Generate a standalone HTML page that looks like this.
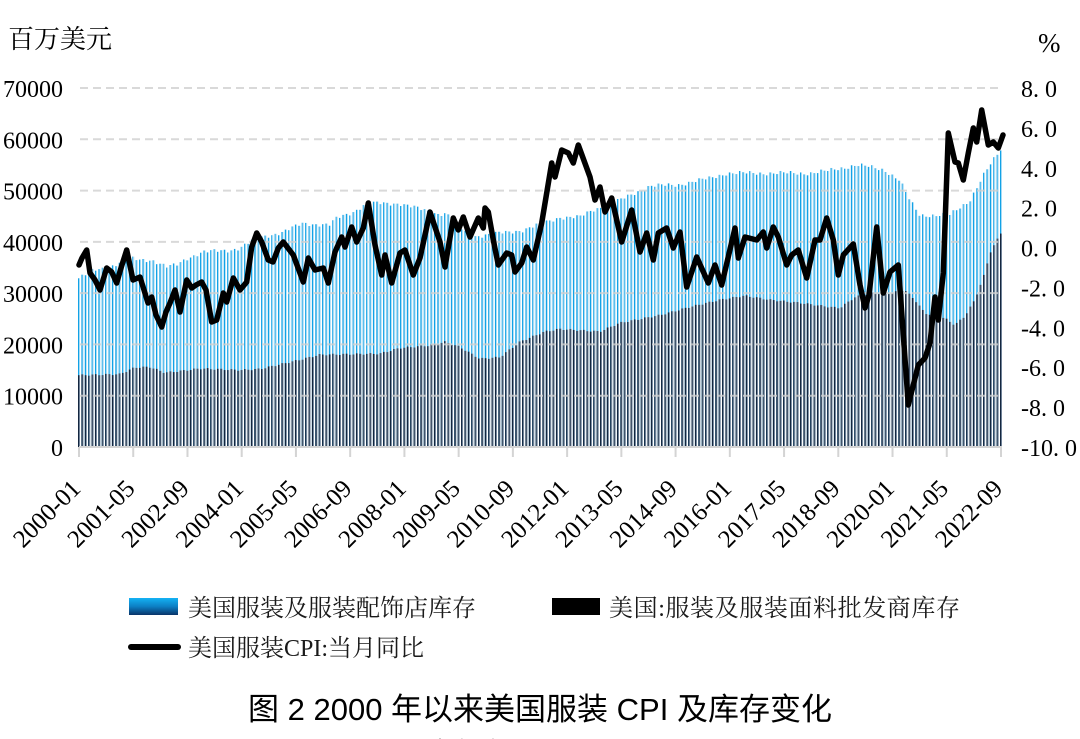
<!DOCTYPE html>
<html><head><meta charset="utf-8">
<style>
html,body{margin:0;padding:0;background:#fff;}
svg{display:block;}
.ax{font-family:"Liberation Serif","Noto Serif CJK SC",serif;font-size:24px;fill:#000;}
.xl{font-family:"Liberation Serif","Noto Serif CJK SC",serif;font-size:25px;fill:#000;}
.lg{font-family:"Liberation Serif","Noto Serif CJK SC",serif;font-size:24px;fill:#1a1a1a;}
.tt{font-family:"Liberation Sans","Noto Sans CJK SC",sans-serif;font-size:31px;fill:#000;}
</style></head>
<body>
<svg id="c" xmlns="http://www.w3.org/2000/svg" width="1080" height="739" viewBox="0 0 1080 739">
<defs>
<linearGradient id="gl" x1="0" y1="0" x2="1" y2="0">
<stop offset="0" stop-color="#12a2e6"/><stop offset="0.5" stop-color="#12a2e6"/>
<stop offset="0.5" stop-color="#a8dbf4"/><stop offset="1" stop-color="#a8dbf4"/>
</linearGradient>
<linearGradient id="gd" x1="0" y1="0" x2="1" y2="0">
<stop offset="0" stop-color="#13263f"/><stop offset="0.5" stop-color="#13263f"/>
<stop offset="0.5" stop-color="#6f8197"/><stop offset="1" stop-color="#6f8197"/>
</linearGradient>
<linearGradient id="lgs" x1="0" y1="0" x2="0" y2="1">
<stop offset="0" stop-color="#14b2f4"/><stop offset="0.5" stop-color="#0c7fc4"/><stop offset="1" stop-color="#0a3468"/>
</linearGradient>
</defs>

<text class="ax" x="8" y="48" style="font-family:'Noto Serif CJK SC',serif;font-size:26px">百万美元</text>
<text class="ax" x="1038" y="52" style="font-size:27px">%</text>

<g id="bars"></g>
<g id="grid" stroke="#cfcfcf" stroke-opacity="0.8" stroke-width="2" stroke-dasharray="8,5"></g>
<line x1="79" y1="447" x2="1002" y2="447" stroke="#d4d4d4" stroke-width="2"/>
<g id="ticks" stroke="#d4d4d4" stroke-width="2"></g>
<g id="labels"></g>
<path id="cpi" fill="none" stroke="#000" stroke-width="5.5" stroke-linejoin="round" stroke-linecap="round"/>

<rect x="129" y="598" width="49" height="17" fill="url(#lgs)"/>
<text class="lg" x="188" y="616">美国服装及服装配饰店库存</text>
<rect x="552" y="598" width="48" height="17" fill="#000"/>
<text class="lg" x="609" y="616" textLength="351">美国:服装及服装面料批发商库存</text>
<line x1="131" y1="647" x2="178" y2="647" stroke="#000" stroke-width="6" stroke-linecap="round"/>
<text class="lg" x="188" y="656">美国服装CPI:当月同比</text>

<text class="tt" x="248" y="720">图 2 2000 年以来美国服装 CPI 及库存变化</text>
<text class="tt" x="433" y="759" style="font-size:24px">数据来源：Wind</text>
</svg>
<script>
(function(){
var NS="http://www.w3.org/2000/svg";
function el(t,a,p,txt){var e=document.createElementNS(NS,t);for(var k in a)e.setAttribute(k,a[k]);if(txt!==undefined)e.textContent=txt;p.appendChild(e);return e;}
var X0=79,X1=1001,Y0=447,Ytop=88;
var grid=document.getElementById('grid'),labels=document.getElementById('labels'),ticks=document.getElementById('ticks');
for(var k=0;k<=7;k++){
  var y=Y0-k*(Y0-Ytop)/7;
  if(k>0) el('line',{x1:80,y1:y,x2:1003,y2:y},grid);
  el('text',{'class':'ax',x:63,y:y+9,'text-anchor':'end'},labels,String(k*10000));
}
for(var j=0;j<=9;j++){
  var v=8-2*j;var y2=Ytop+j*(Y0-Ytop)/9;
  var s=(v<0?'-':'')+Math.abs(v)+'. 0';
  el('text',{'class':'ax',x:1021,y:y2+9},labels,s);
}
var xl=['2000-01','2001-05','2002-09','2004-01','2005-05','2006-09','2008-01','2009-05','2010-09','2012-01','2013-05','2014-09','2016-01','2017-05','2018-09','2020-01','2021-05','2022-09'];
for(var i=0;i<xl.length;i++){
  var tx=X0+i*(X1-X0)/17;
  el('line',{x1:tx,y1:447,x2:tx,y2:457},ticks);
  el('text',{'class':'xl',transform:'translate('+(tx+3)+',490) rotate(-45)','text-anchor':'end'},labels,xl[i]);
}
function interp(a,x){
  if(x<=a[0][0])return a[0][1];
  for(var i=1;i<a.length;i++){if(x<=a[i][0]){var t=(x-a[i-1][0])/(a[i][0]-a[i-1][0]);return a[i-1][1]+t*(a[i][1]-a[i-1][1]);}}
  return a[a.length-1][1];
}
var L=[[79,32900],[95,34500],[110,35100],[130,36800],[140,36500],[152,36500],[167,35100],[177,35500],[187,36800],[203,38000],[230,38400],[240,38800],[257,40700],[283,41900],[303,43600],[330,43300],[337,44600],[353,45800],[367,47500],[400,47500],[437,45500],[447,45500],[470,41000],[493,41500],[523,42300],[543,43600],[560,44800],[580,44800],[593,46200],[620,48100],[650,50900],[677,51100],[710,52400],[727,53400],[810,53400],[827,53800],[857,55000],[870,54600],[885,54000],[900,52000],[910,48100],[920,45200],[950,45200],[970,48100],[985,53400],[1001,58000]];
var D=[[79,14000],[120,14200],[135,15500],[150,15600],[165,14500],[180,14800],[200,15300],[240,15000],[260,15200],[300,17000],[320,18000],[380,18200],[400,19300],[430,19800],[445,20500],[460,19500],[480,17200],[500,17500],[520,20500],[545,22500],[560,23000],[600,22500],[620,24200],[660,25700],[690,27300],[720,28700],[745,29500],[770,28700],[800,28100],[830,27300],[840,27100],[855,29200],[870,30000],[890,30000],[905,30600],[915,28700],[925,26100],[945,25100],[955,23800],[965,25500],[975,28700],[985,33900],[990,37800],[1001,41700]];
var bars=document.getElementById('bars');
var N=273;
var sc=(Y0-Ytop)/70000;
for(var i=0;i<N;i++){
  var xc=X0+i*(X1-X0)/(N-1);
  var lv=interp(L,xc)+300*Math.sin(i*2.1)+200*Math.sin(i*0.52);
  var dv=interp(D,xc)+150*Math.sin(i*1.7);
  var bx=xc-1.0;
  el('rect',{x:bx,y:Y0-lv*sc,width:2.0,height:lv*sc,fill:'url(#gl)'},bars);
  el('rect',{x:bx,y:Y0-dv*sc,width:2.0,height:dv*sc,fill:'url(#gd)'},bars);
}
var P=[[79,265],[82,258],[86.7,250],[90,273],[95,280],[100,290],[106.7,268],[111.7,272],[116.7,283],[121,268],[126.7,250],[133,280],[140,277],[148,303],[151.7,297],[156,315],[161.7,327],[166,312],[170,303],[175,290],[180,312],[186.7,280],[191.7,288],[196,285],[201.7,282],[206,290],[211.7,322],[216.7,320],[223.3,293],[226.7,302],[233.3,278],[240,290],[246.7,282],[251.7,247],[256.7,233],[261.7,242],[268.3,260],[273,262],[278.3,248],[283.3,242],[293.3,255],[303.3,282],[308.3,258],[315,270],[323.3,268],[328.3,283],[335,252],[341.7,237],[345,247],[351.7,227],[356.7,242],[363.3,228],[368.3,203],[375,245],[381.7,275],[385,255],[391.7,283],[400,253],[405,250],[413.3,275],[420,258],[430,212],[440,242],[445,267],[453.3,218],[458.3,230],[463.3,217],[470,237],[478.3,218],[483.3,228],[485,208],[488.3,212],[493.3,240],[498.3,265],[506.7,253],[511.7,255],[515,272],[521.7,263],[526.7,247],[533.3,260],[541.7,223],[551.7,163],[555,177],[561.7,150],[568.3,153],[573.3,163],[578.3,145],[590,177],[595,200],[600,187],[605,212],[611.7,198],[621.7,242],[631.7,210],[640,252],[646.7,233],[653.3,260],[658.3,233],[666.7,228],[673.3,248],[680,232],[686.7,287],[696.7,257],[708.3,283],[715,265],[721.7,285],[735,228],[738.3,258],[745,237],[756.7,240],[763.3,232],[766.7,248],[773.3,227],[778.3,237],[786.7,265],[791.7,255],[798.3,250],[806.7,278],[815,240],[820,240],[826.7,218],[833.3,240],[838.3,275],[843.3,255],[853.3,244],[860,285],[865,308],[869,295],[876.7,227],[883.3,293],[890,272],[898.3,265],[908.3,405],[918.3,365],[925,358],[930,343],[935,297],[938.3,320],[943.3,273],[948.3,133],[955,162],[958.3,163],[963.3,180],[968.3,153],[973.3,128],[976.7,142],[981.7,110],[988.3,145],[993.3,142],[998.3,148],[1003,135]];
var d='M'+P.map(function(p){return p[0]+' '+p[1];}).join(' L');
document.getElementById('cpi').setAttribute('d',d);
})();
</script>
</body></html>
